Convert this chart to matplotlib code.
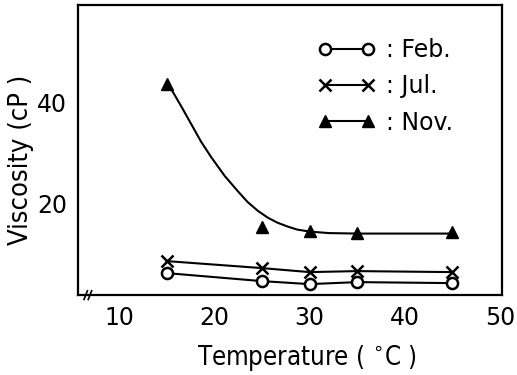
import matplotlib.pyplot as plt

temp = [15, 25, 30, 35, 45]
feb = [6.0, 4.4, 3.8, 4.2, 4.0]
jul = [8.4, 7.0, 6.2, 6.4, 6.2]
nov = [43.8, 15.2, 14.4, 14.0, 14.2]

# hand drawn smooth curve through the Nov. points
nov_curve_x = [15, 15.5, 16.6, 17.6, 18.6, 19.7, 21.1, 22.5, 23.5, 24.6,
               25.6, 26.6, 27.7, 28.7, 30.0, 32.0, 35, 45]
nov_curve_y = [43.8, 42.7, 39.1, 35.7, 32.3, 29.1, 25.4, 22.3, 20.2, 18.4,
               17.1, 16.1, 15.3, 14.7, 14.3, 14.0, 13.9, 13.9]

plt.rcParams['font.family'] = 'DejaVu Sans'

fig = plt.figure(figsize=(5.17, 3.75), dpi=100)
ax = fig.add_axes([0.151, 0.213, 0.820, 0.774])

ax.plot(temp, feb, color='black', lw=1.5, marker='o', ms=8, mfc='white',
        mec='black', mew=1.8, label=': Feb.')
ax.plot(temp, jul, color='black', lw=1.5, marker='x', ms=8, mew=1.8,
        label=': Jul.')
ax.plot(nov_curve_x, nov_curve_y, color='black', lw=1.5)
ax.plot(temp, nov, ls='none', color='black', marker='^', ms=9)
ax.plot([], [], color='black', lw=1.5, marker='^', ms=9, label=': Nov.')

ax.set_xlim(5.7, 50.2)
ax.set_ylim(1.6, 59.6)
ax.set_xticks([10, 20, 30, 40, 50])
ax.set_yticks([20, 40])
ax.tick_params(length=0, labelsize=17, pad=8)
for s in ax.spines.values():
    s.set_linewidth(1.6)

ax.set_xlabel('Temperature ( $^{\\circ}$C )', fontsize=18.5,
              fontstretch='condensed')
ax.set_ylabel('Viscosity (cP )', fontsize=19.5, fontstretch='condensed')
ax.xaxis.set_label_coords(0.54, -0.165)
ax.yaxis.set_label_coords(-0.105, 0.465)

# axis break marks on the bottom axis
for dx in (0.018, 0.028):
    ax.plot([dx - 0.004, dx + 0.004], [-0.015, 0.015], color='black', lw=1.2,
            transform=ax.transAxes, clip_on=False)

ax.legend(loc='upper left', bbox_to_anchor=(0.566, 0.886), frameon=False,
          numpoints=2, handlelength=2.4, handletextpad=0.5, fontsize=17,
          labelspacing=0.52, borderpad=0, borderaxespad=0)

fig.savefig('out.png', dpi=100)
